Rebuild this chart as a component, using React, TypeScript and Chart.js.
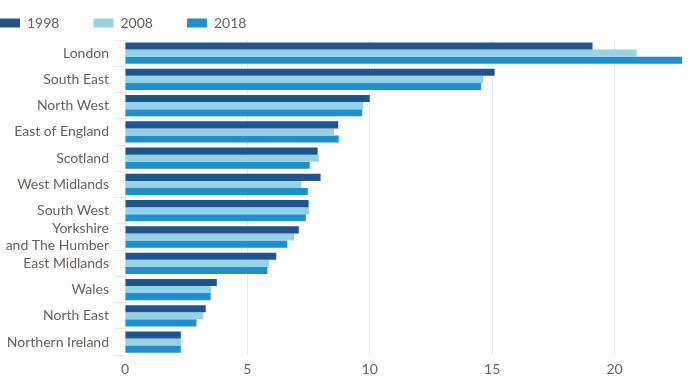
import React, { useEffect, useRef } from "react";
import { Chart, registerables } from "chart.js";

Chart.register(...registerables);

const categories: (string | string[])[] = [
  "London",
  "South East",
  "North West",
  "East of England",
  "Scotland",
  "West Midlands",
  "South West",
  ["Yorkshire", "and The Humber"],
  "East Midlands",
  "Wales",
  "North East",
  "Northern Ireland",
];

const seriesNames = ["1998", "2008", "2018"];
const values1998 = [19.1, 15.1, 10.0, 8.71, 7.87, 7.99, 7.5, 7.1, 6.18, 3.75, 3.3, 2.28];
const values2008 = [20.9, 14.63, 9.74, 8.54, 7.92, 7.2, 7.53, 6.91, 5.88, 3.52, 3.19, 2.31];
const values2018 = [22.76, 14.55, 9.69, 8.73, 7.55, 7.47, 7.39, 6.63, 5.82, 3.5, 2.92, 2.28];
const xTickValues = [0, 5, 10, 15, 20];
const xMax = 23;

const colors = ["#1f558c", "#94d3e6", "#1f8fcf"];
const textColor = "#66605c";
const gridColor = "#ebe6e1";

export default function App() {
  const canvasRef = useRef<HTMLCanvasElement | null>(null);

  useEffect(() => {
    document.body.style.margin = "0";
    const canvas = canvasRef.current;
    if (!canvas) return;
    const chart = new Chart(canvas, {
      type: "bar",
      data: {
        labels: categories,
        datasets: [values1998, values2008, values2018].map((vals, i) => ({
          label: seriesNames[i],
          data: vals,
          backgroundColor: colors[i],
          borderWidth: 0,
          barPercentage: 1,
          categoryPercentage: 0.81,
        })),
      },
      options: {
        indexAxis: "y",
        responsive: false,
        animation: false,
        layout: { padding: { left: -34, top: -18, right: 12, bottom: 2 } },
        font: { family: "Lato", size: 14 },
        plugins: {
          tooltip: { enabled: false },
          legend: {
            display: true,
            position: "top",
            align: "start",
            labels: {
              boxWidth: 20,
              boxHeight: 9,
              padding: 34,
              color: textColor,
              font: { family: "Lato", size: 14 },
            },
          },
        },
        scales: {
          x: {
            type: "linear",
            min: 0,
            max: xMax,
            afterBuildTicks: (scale: any) => {
              scale.ticks = xTickValues.map((v) => ({ value: v }));
            },
            grid: { color: gridColor, drawTicks: false, lineWidth: 1 },
            border: { display: false },
            ticks: {
              color: textColor,
              padding: 6,
              font: { family: "Lato", size: 14 },
            },
          },
          y: {
            type: "category",
            afterFit: (scale: any) => {
              scale.width = 159;
            },
            grid: {
              drawOnChartArea: false,
              drawTicks: true,
              tickLength: 11,
              color: gridColor,
            },
            border: { display: false },
            ticks: {
              autoSkip: false,
              color: textColor,
              padding: 5,
              font: { family: "Lato", size: 14 },
            },
          },
        },
      },
    } as any);
    return () => chart.destroy();
  }, []);

  return (
    <div style={{ width: 700, height: 386 }}>
      <canvas ref={canvasRef} width={700} height={386} />
    </div>
  );
}
